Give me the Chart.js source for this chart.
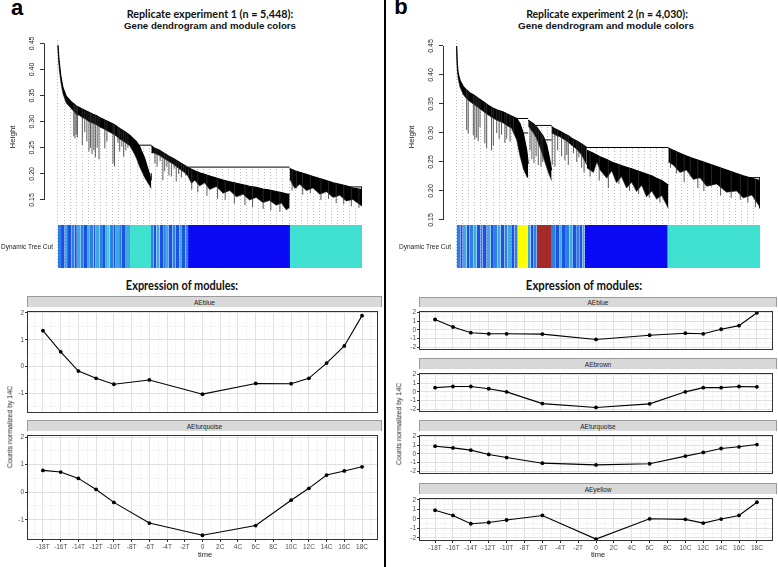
<!DOCTYPE html>
<html>
<head>
<meta charset="utf-8">
<title>WGCNA replicate experiments</title>
<script src="https://cdn.jsdelivr.net/npm/chart.js@4.4.1/dist/chart.umd.min.js"></script>
<style>
  html, body { margin: 0; padding: 0; background: #fff; }
  body { position: relative; width: 778px; height: 567px; overflow: hidden; font-family: 'Liberation Sans', Arial, sans-serif; }
  canvas { position: absolute; }
  .strip { position: absolute; background: #d9d9d9; border: 1px solid #9a9a9a; border-bottom: none; box-sizing: border-box;
           font-size: 6.5px; color: #1a1a1a; text-align: center; }
  .divider { position: absolute; left: 384px; top: 0; width: 2px; height: 567px; background: #000; }
</style>
</head>
<body>
<div class="divider"></div>
<script>
// ---------- expression of modules (lower panels) ----------
const TIMES = [-18, -16, -14, -12, -10, -6, 0, 6, 10, 12, 14, 16, 18];
const TIME_TICKS = [-18, -16, -14, -12, -10, -8, -6, -4, -2, 0, 2, 4, 6, 8, 10, 12, 14, 16, 18];
const TIME_LABELS = ['-18T', '-16T', '-14T', '-12T', '-10T', '-8T', '-6T', '-4T', '-2T', '0',
                     '2C', '4C', '6C', '8C', '10C', '12C', '14C', '16C', '18C'];

const A_BLUE      = [1.34, 0.55, -0.17, -0.44, -0.66, -0.50, -1.03, -0.63, -0.64, -0.44, 0.13, 0.77, 1.90];
const A_TURQUOISE = [0.79, 0.73, 0.50, 0.10, -0.37, -1.12, -1.56, -1.21, -0.29, 0.14, 0.62, 0.77, 0.92];

const B_BLUE      = [1.20, 0.33, -0.33, -0.46, -0.46, -0.49, -1.11, -0.62, -0.39, -0.46, 0.07, 0.49, 1.98];
const B_BROWN     = [0.49, 0.62, 0.62, 0.36, 0.00, -1.36, -1.81, -1.39, 0.00, 0.49, 0.49, 0.62, 0.58];
const B_TURQUOISE = [0.89, 0.69, 0.43, -0.07, -0.43, -1.08, -1.28, -1.15, -0.26, 0.16, 0.62, 0.82, 1.08];
const B_YELLOW    = [0.90, 0.35, -0.52, -0.39, -0.13, 0.35, -2.13, 0.00, -0.06, -0.45, -0.03, 0.35, 1.74];

// ---------- dendrograms (leaf position in % of leaves, merge height) ----------
const HEIGHT_TICKS = [0.15, 0.20, 0.25, 0.30, 0.35, 0.40, 0.45];

// experiment 1: dense branch bands
const A1_X   = [0, 0.3, 0.9, 1.6, 2.7, 4.4, 5.5, 6.0, 7.1, 8.0, 8.8, 10.2, 11.5, 12.6, 13.7, 15.4, 17.0, 18.6, 20.3, 21.9, 23.6, 24.7, 25.8, 26.9, 28.5, 30.7];
const A1_TOP = [0.447, 0.421, 0.389, 0.366, 0.349, 0.338, 0.333, 0.330, 0.327, 0.324, 0.322, 0.318, 0.314, 0.312, 0.308, 0.303, 0.299, 0.294, 0.287, 0.281, 0.274, 0.268, 0.262, 0.252, 0.230, 0.188];
const A1_BOT = [0.444, 0.408, 0.377, 0.354, 0.336, 0.325, 0.318, 0.314, 0.312, 0.308, 0.306, 0.300, 0.297, 0.294, 0.290, 0.285, 0.280, 0.275, 0.267, 0.261, 0.254, 0.243, 0.230, 0.213, 0.193, 0.172];

const A2_X   = [30.7, 31.5, 32.3, 33.4, 34.5, 35.6, 36.7, 37.8, 38.9, 40.6, 41.7, 42.8];
const A2_TOP = [0.254, 0.250, 0.248, 0.245, 0.241, 0.237, 0.233, 0.230, 0.226, 0.220, 0.216, 0.212];
const A2_BOT = [0.240, 0.240, 0.238, 0.235, 0.231, 0.227, 0.223, 0.219, 0.214, 0.207, 0.202, 0.195];

const A3_X   = [42.8, 43.9, 45.0, 46.6, 48.2, 49.9, 52.1, 54.3, 56.5, 58.7, 60.9, 63.0, 65.2, 67.4, 69.6, 71.8, 73.5, 75.1, 76.2];
const A3_TOP = [0.212, 0.209, 0.206, 0.202, 0.199, 0.196, 0.192, 0.188, 0.185, 0.182, 0.179, 0.176, 0.174, 0.171, 0.169, 0.166, 0.164, 0.162, 0.161];
const A3_BOT = [0.195, 0.182, 0.188, 0.177, 0.183, 0.170, 0.176, 0.163, 0.168, 0.156, 0.161, 0.150, 0.155, 0.145, 0.149, 0.140, 0.144, 0.131, 0.136];

const A4_X   = [76.2, 77.9, 79.5, 81.7, 83.9, 86.1, 88.3, 90.5, 92.7, 94.8, 97.0, 100];
const A4_TOP = [0.210, 0.206, 0.203, 0.199, 0.195, 0.191, 0.187, 0.183, 0.180, 0.177, 0.173, 0.170];
const A4_BOT = [0.190, 0.172, 0.180, 0.168, 0.173, 0.161, 0.166, 0.155, 0.159, 0.148, 0.151, 0.138];

// [from, to, height, drop-to]
const A_MERGES = [[24.5, 30.7, 0.255, null], [42.8, 76.2, 0.213, null], [95.0, 100, 0.175, 0.140]];

// experiment 1: single hanging branches (position, lowest leaf height)
const A_DROP_X   = [5.2, 5.6, 6.0, 6.4, 8.0, 8.8, 9.5, 10.2, 10.7, 11.2, 11.8, 12.3, 12.9, 13.5, 15.4, 16.1, 18.1, 18.6, 19.7, 20.3, 21.0, 21.6, 22.3, 23.0,
                    30.7, 31.9, 32.6, 33.6, 34.5, 35.1, 35.8, 36.5, 37.3, 38.2, 38.9, 39.7, 40.6, 41.3, 42.0,
                    44.0, 46.0, 49.0, 52.5, 55.0, 58.0, 61.5, 64.0, 67.5, 70.0, 73.0,
                    77.0, 78.5, 80.5, 83.0, 86.5, 89.0, 91.5, 94.0, 96.5, 99.0];
const A_DROP_LOW = [0.272, 0.268, 0.275, 0.270, 0.255, 0.280, 0.262, 0.243, 0.250, 0.238, 0.245, 0.232, 0.250, 0.228, 0.249, 0.262, 0.220, 0.214, 0.260, 0.243, 0.252, 0.233, 0.245, 0.250,
                    0.201, 0.220, 0.214, 0.225, 0.188, 0.205, 0.214, 0.197, 0.195, 0.210, 0.185, 0.200, 0.193, 0.205, 0.198,
                    0.170, 0.165, 0.158, 0.152, 0.150, 0.143, 0.140, 0.136, 0.133, 0.130, 0.127,
                    0.168, 0.172, 0.160, 0.163, 0.150, 0.152, 0.144, 0.142, 0.138, 0.135];

// experiment 2: dense branch bands
const B1_X   = [0, 0.2, 0.5, 1.1, 2.2, 3.3, 4.4, 5.5, 7.1, 8.8, 10.4, 11.9, 13.2, 15.4, 16.5, 18.1, 19.8, 20.9, 22.0, 23.1, 23.6];
const B1_TOP = [0.450, 0.420, 0.403, 0.391, 0.380, 0.374, 0.369, 0.366, 0.360, 0.354, 0.348, 0.343, 0.340, 0.336, 0.333, 0.329, 0.325, 0.316, 0.299, 0.270, 0.247];
const B1_BOT = [0.445, 0.410, 0.393, 0.379, 0.366, 0.359, 0.354, 0.350, 0.344, 0.337, 0.331, 0.326, 0.322, 0.317, 0.313, 0.308, 0.288, 0.260, 0.238, 0.225, 0.222];

const B2_X   = [23.6, 25.3, 26.4, 27.5, 28.6, 29.7, 30.5, 31.3];
const B2_TOP = [0.322, 0.316, 0.310, 0.302, 0.294, 0.279, 0.259, 0.236];
const B2_BOT = [0.312, 0.300, 0.290, 0.275, 0.258, 0.240, 0.228, 0.218];

const B3_X   = [31.3, 32.4, 34.1, 35.7, 36.8, 37.9, 39.6, 41.2, 42.9];
const B3_TOP = [0.311, 0.307, 0.303, 0.298, 0.295, 0.291, 0.286, 0.281, 0.275];
const B3_BOT = [0.300, 0.297, 0.293, 0.288, 0.284, 0.279, 0.272, 0.262, 0.245];

const B4_X   = [42.9, 45.1, 46.2, 47.3, 49.5, 51.1, 52.7, 54.3, 56.0, 57.7, 59.3, 61.0, 62.6, 64.3, 65.9, 67.6, 69.8];
const B4_TOP = [0.270, 0.265, 0.262, 0.259, 0.254, 0.250, 0.247, 0.244, 0.241, 0.238, 0.235, 0.232, 0.229, 0.226, 0.222, 0.218, 0.210];
const B4_BOT = [0.240, 0.232, 0.250, 0.236, 0.222, 0.235, 0.214, 0.225, 0.205, 0.215, 0.199, 0.210, 0.190, 0.200, 0.186, 0.192, 0.170];

const B5_X   = [69.8, 71.4, 73.6, 75.8, 78.0, 80.2, 82.4, 85.7, 89.0, 92.3, 94.5, 97.3, 100];
const B5_TOP = [0.274, 0.270, 0.265, 0.260, 0.256, 0.252, 0.248, 0.242, 0.236, 0.230, 0.226, 0.222, 0.218];
const B5_BOT = [0.250, 0.245, 0.232, 0.236, 0.220, 0.223, 0.208, 0.212, 0.198, 0.200, 0.188, 0.193, 0.172];

const B_MERGES = [[19.8, 23.6, 0.325, null], [22.0, 23.6, 0.300, null], [26.0, 31.3, 0.313, null],
                  [28.6, 31.3, 0.288, null], [42.9, 69.8, 0.275, null], [94.5, 100, 0.223, 0.170]];

const B_DROP_X   = [3.3, 3.8, 5.5, 6.0, 6.6, 7.1, 7.7, 9.3, 9.9, 11.5, 12.1, 13.2, 14.0, 14.8, 15.9, 16.5, 17.6, 18.7,
                    24.2, 24.8, 25.5, 26.2, 26.9, 27.8, 28.4,
                    31.5, 32.4, 33.3, 34.6, 35.7, 36.3, 36.8, 38.5, 39.6, 40.3, 41.2, 42.0,
                    44.0, 47.0, 50.0, 53.5, 57.0, 60.0, 63.5, 67.0,
                    70.5, 72.5, 75.0, 77.0, 79.5, 81.5, 84.0, 87.0, 90.5, 93.5, 96.0, 98.5];
const B_DROP_LOW = [0.305, 0.299, 0.296, 0.289, 0.292, 0.286, 0.310, 0.282, 0.274, 0.270, 0.278, 0.300, 0.290, 0.297, 0.283, 0.290, 0.285, 0.300,
                    0.270, 0.255, 0.248, 0.260, 0.245, 0.242, 0.250,
                    0.245, 0.242, 0.270, 0.260, 0.253, 0.262, 0.245, 0.265, 0.250, 0.258, 0.240, 0.232,
                    0.225, 0.218, 0.205, 0.212, 0.200, 0.195, 0.188, 0.180,
                    0.240, 0.230, 0.215, 0.225, 0.205, 0.200, 0.208, 0.192, 0.188, 0.185, 0.180, 0.172];

// dynamic tree cut: segment start (% of leaves) and module colour
const A_CUT_START  = [0, 1.0, 2.2, 3.0, 4.5, 5.5, 6.2, 7.5, 8.3, 9.8, 10.5, 11.7, 12.4, 13.6, 14.8, 15.5, 16.4, 17.0, 18.2, 19.0,
                      20.1, 21.0, 22.3, 23.7, 30.6, 31.5, 32.4, 33.4, 34.6, 35.5, 36.3, 37.6, 38.6, 40.0, 40.8, 41.9, 42.8, 76.3];
const A_CUT_MODULE = ['mid', 'dark', 'light', 'dark', 'mid', 'dark', 'light', 'mid', 'dark', 'light',
                      'mid', 'dark', 'light', 'mid', 'dark', 'light', 'teal', 'mid', 'dark', 'light',
                      'mid', 'dark', 'light', 'turquoise', 'mid', 'dark', 'light', 'dark', 'mid', 'light',
                      'dark', 'mid', 'dark', 'light', 'dark', 'mid', 'blue', 'turquoise'];

const B_CUT_START  = [0, 1.2, 2.0, 3.3, 4.3, 5.6, 6.6, 7.9, 8.6, 9.9, 11.2, 12.0, 13.5, 14.5, 15.8, 16.8, 18.0, 19.1, 20.1, 23.4,
                      24.4, 25.4, 26.4, 31.4, 32.5, 33.8, 34.7, 36.0, 37.2, 38.3, 39.6, 40.6, 41.5, 42.2, 69.6];
const B_CUT_MODULE = ['mid', 'dark', 'light', 'dark', 'mid', 'light', 'dark', 'mid', 'dark', 'light',
                      'dark', 'mid', 'light', 'dark', 'mid', 'light', 'dark', 'mid', 'yellow', 'light',
                      'dark', 'mid', 'brown', 'mid', 'dark', 'light', 'dark', 'mid', 'light', 'dark',
                      'mid', 'dark', 'light', 'blue', 'turquoise'];

const MODULE_COLORS = {
  blue: '#0a0af4', turquoise: '#40e0d0', yellow: '#ffff00', brown: '#a52a2a',
  dark: '#1c52e4', mid: '#2b7fe6', light: '#40a8de', teal: '#3cc6d4'
};

Chart.defaults.font.family = "'Liberation Sans', Arial, sans-serif";

// ---------- helpers ----------
function makeCanvas(left, top, w, h) {
  const c = document.createElement('canvas');
  c.width = w; c.height = h;
  c.style.left = left + 'px'; c.style.top = top + 'px';
  c.style.width = w + 'px'; c.style.height = h + 'px';
  document.body.appendChild(c);
  return c;
}

// Places a text label centred (or right-aligned) on x,y; optionally rotated / fitted to a width
function label(text, x, y, css, opts = {}) {
  const d = document.createElement('div');
  d.textContent = text;
  Object.assign(d.style, { position: 'absolute', left: x + 'px', top: y + 'px', whiteSpace: 'nowrap', lineHeight: '1' }, css);
  document.body.appendChild(d);
  const sx = opts.width ? opts.width / d.offsetWidth : 1;
  const anchor = opts.anchor === 'right' ? 'translate(-100%,-50%)' : 'translate(-50%,-50%)';
  d.style.transform = anchor + (opts.rotate ? ' rotate(-90deg)' : '') + ` scaleX(${sx})`;
}

function strip(text, left, top, w, h) {
  const d = document.createElement('div');
  d.className = 'strip';
  Object.assign(d.style, { left: left + 'px', top: top + 'px', width: w + 'px', height: h + 'px', lineHeight: h + 'px' });
  d.textContent = text;
  document.body.appendChild(d);
}

const panelBorder = {
  id: 'panelBorder',
  afterDraw(chart) {
    const a = chart.chartArea, ctx = chart.ctx;
    ctx.save();
    ctx.strokeStyle = '#333';
    ctx.lineWidth = 1;
    ctx.strokeRect(a.left + 0.5, a.top + 0.5, a.right - a.left - 1, a.bottom - a.top - 1);
    ctx.restore();
  }
};

// R-style axis line spanning only the labelled ticks
const rAxisLine = {
  id: 'rAxisLine',
  afterDraw(chart) {
    const y = chart.scales.y, ctx = chart.ctx, x = chart.chartArea.left + 0.5;
    ctx.save();
    ctx.strokeStyle = '#333';
    ctx.lineWidth = 1;
    ctx.beginPath();
    ctx.moveTo(x, y.getPixelForValue(HEIGHT_TICKS[0]));
    ctx.lineTo(x, y.getPixelForValue(HEIGHT_TICKS[HEIGHT_TICKS.length - 1]));
    ctx.stroke();
    ctx.restore();
  }
};

// height of the band top at leaf position x (for the upper end of a hanging branch)
function topAt(clusters, x) {
  for (const c of clusters) {
    const n = c.x.length;
    if (x < c.x[0] || x > c.x[n - 1]) continue;
    for (let i = 1; i < n; i++) {
      if (x <= c.x[i]) {
        const t = (x - c.x[i - 1]) / ((c.x[i] - c.x[i - 1]) || 1);
        return c.top[i - 1] + t * (c.top[i] - c.top[i - 1]);
      }
    }
    return c.top[0];
  }
  return null;
}

// ---------- dendrogram + colour bar ----------
function dendroChart(g, clusters, merges, dropX, dropLow, cutStart, cutModule) {
  const padTop = 10;
  const canvas = makeCanvas(g.left, g.top - padTop, g.width, g.height + padTop);
  const span = g.yMax - g.yMin;
  const barTop = g.yMax - (g.barTop - g.top) / g.height * span;
  const guides = [];
  for (let v = 0; v <= 100; v += 2) guides.push(v);

  const datasets = [];
  cutStart.forEach((s, i) => {
    const e = i + 1 < cutStart.length ? cutStart[i + 1] : 100;
    datasets.push({ data: [{ x: s, y: barTop }, { x: e, y: barTop }], fill: 'start',
      backgroundColor: MODULE_COLORS[cutModule[i]], borderWidth: 0, pointRadius: 0, order: 1 });
  });
  merges.forEach(m => {
    const pts = [{ x: m[0], y: m[2] }, { x: m[1], y: m[2] }];
    if (m[3] !== null) pts.push({ x: m[1], y: m[3] });
    datasets.push({ data: pts, borderColor: '#000', borderWidth: 1, pointRadius: 0, fill: false, order: 2 });
  });
  // hanging single branches
  const dropPts = [];
  dropX.forEach((x, i) => {
    dropPts.push({ x, y: dropLow[i] }, { x, y: topAt(clusters, x) }, { x, y: null });
  });
  datasets.push({ data: dropPts, borderColor: '#333', borderWidth: 0.8, pointRadius: 0, fill: false,
    spanGaps: false, order: 4 });
  // white mask above the tree so the guide lines stop at the leaves
  const mask = [];
  clusters.forEach(c => c.x.forEach((x, i) => {
    let h = c.top[i];
    merges.forEach(m => { if (x >= m[0] && x <= m[1] && m[2] > h) h = m[2]; });
    mask.push({ x, y: h });
  }));
  datasets.push({ data: mask, fill: 'end', backgroundColor: '#fff', borderWidth: 0, pointRadius: 0, order: 10 });
  clusters.forEach(c => {
    datasets.push({ data: c.x.map((x, i) => ({ x, y: c.top[i] })), borderColor: '#000', borderWidth: 1.2,
      pointRadius: 0, fill: false, order: 5 });
    datasets.push({ data: c.x.map((x, i) => ({ x, y: c.bot[i] })), borderColor: '#222', borderWidth: 0.6,
      pointRadius: 0, fill: '-1', backgroundColor: '#000', order: 5 });
  });

  return new Chart(canvas, {
    type: 'line',
    data: { datasets },
    options: {
      responsive: false, animation: false, events: [],
      layout: { padding: { top: padTop, left: 0, right: 0, bottom: 0 } },
      plugins: { legend: { display: false }, tooltip: { enabled: false } },
      scales: {
        x: {
          type: 'linear', min: g.xMin, max: 100,
          afterBuildTicks: s => { s.ticks = guides.map(v => ({ value: v })); },
          ticks: { display: false },
          grid: { color: '#9c9c9c', lineWidth: 0.7, drawTicks: false, borderDash: [1, 2] },
          border: { display: false, dash: [1, 2] },
          afterFit: s => { s.height = 0; s.paddingLeft = 0; s.paddingRight = 0; }
        },
        y: {
          type: 'linear', min: g.yMin, max: g.yMax,
          afterBuildTicks: s => { s.ticks = HEIGHT_TICKS.map(v => ({ value: v })); },
          ticks: { minRotation: 90, maxRotation: 90, crossAlign: 'center', padding: 1, color: '#222',
                   autoSkip: false, font: { size: 7 }, callback: v => v.toFixed(2) },
          grid: { drawOnChartArea: false, drawTicks: true, tickLength: 4, tickColor: '#333', tickWidth: 1 },
          border: { display: false },
          afterFit: s => { s.width = g.yW; s.paddingTop = 0; s.paddingBottom = 0; }
        }
      }
    },
    plugins: [rAxisLine]
  });
}

// ---------- one ggplot facet ----------
function facet(f, series, yMin, yMax, showX) {
  const canvas = makeCanvas(f.left - f.yW, f.top, f.right - f.left + f.yW, f.bottom - f.top + (showX ? f.xH : 0));
  const xGrid = [];
  for (let v = -19; v <= 19; v++) xGrid.push(v);
  const yGrid = [];
  for (let v = Math.ceil(yMin * 2) / 2; v <= yMax; v += 0.5) yGrid.push(v);
  const isMajorX = v => v % 2 === 0;
  const isMajorY = v => Number.isInteger(v);

  return new Chart(canvas, {
    type: 'line',
    data: { datasets: [{ data: TIMES.map((t, i) => ({ x: t, y: series[i] })), borderColor: '#000', borderWidth: 1.1,
      pointRadius: 1.9, pointBackgroundColor: '#000', pointBorderWidth: 0, tension: 0, fill: false }] },
    options: {
      responsive: false, animation: false, events: [],
      layout: { padding: 0 },
      plugins: { legend: { display: false }, tooltip: { enabled: false } },
      scales: {
        x: {
          type: 'linear', min: -19.8, max: 19.8,
          afterBuildTicks: s => { s.ticks = xGrid.map(v => ({ value: v })); },
          ticks: { display: showX, autoSkip: false, minRotation: 0, maxRotation: 0, padding: 1, color: '#4d4d4d',
                   font: { size: 6.5 },
                   callback: v => { const k = TIME_TICKS.indexOf(v); return k < 0 ? '' : TIME_LABELS[k]; } },
          grid: { color: c => (c.tick && isMajorX(c.tick.value)) ? '#e1e1e1' : '#eeeeee',
                  lineWidth: c => (c.tick && isMajorX(c.tick.value)) ? 1 : 0.6,
                  drawTicks: showX, tickLength: 2,
                  tickColor: c => (c.tick && isMajorX(c.tick.value)) ? '#333' : 'rgba(0,0,0,0)' },
          border: { display: false },
          afterFit: s => { s.height = showX ? f.xH : 0; s.paddingLeft = 0; s.paddingRight = 0; }
        },
        y: {
          type: 'linear', min: yMin, max: yMax,
          afterBuildTicks: s => { s.ticks = yGrid.map(v => ({ value: v })); },
          ticks: { padding: 1, color: '#4d4d4d', font: { size: 6.5 }, autoSkip: false,
                   callback: v => isMajorY(v) ? String(v) : '' },
          grid: { color: c => (c.tick && isMajorY(c.tick.value)) ? '#e1e1e1' : '#eeeeee',
                  lineWidth: c => (c.tick && isMajorY(c.tick.value)) ? 1 : 0.6,
                  drawTicks: true, tickLength: 2,
                  tickColor: c => (c.tick && isMajorY(c.tick.value)) ? '#333' : 'rgba(0,0,0,0)' },
          border: { display: false },
          afterFit: s => { s.width = f.yW; s.paddingTop = 0; s.paddingBottom = 0; }
        }
      }
    },
    plugins: [panelBorder]
  });
}

// ggplot-style 5% expansion of the shared y range
function expandRange(seriesList) {
  const all = seriesList.flat();
  const lo = Math.min(...all), hi = Math.max(...all), pad = (hi - lo) * 0.05;
  return [lo - pad, hi + pad];
}

function init() {
  // ----- titles -----
  const titleFont = { fontFamily: "Lato, 'Open Sans', sans-serif", fontWeight: '700', fontSize: '12px', color: '#111' };
  const subFont = { fontFamily: "'Liberation Sans', Arial, sans-serif", fontWeight: '700', fontSize: '9.5px', color: '#111' };
  label('a', 17, 8, { fontFamily: "'Liberation Sans', Arial, sans-serif", fontWeight: '700', fontSize: '22px' });
  label('b', 401, 7, { fontFamily: "'Liberation Sans', Arial, sans-serif", fontWeight: '700', fontSize: '22px' });
  label('Replicate experiment 1 (n = 5,448):', 210, 14, titleFont, { width: 167 });
  label('Gene dendrogram and module colors', 210, 26, subFont, { width: 172 });
  label('Replicate experiment 2 (n = 4,030):', 607, 14, titleFont, { width: 162 });
  label('Gene dendrogram and module colors', 606, 26, subFont, { width: 176 });

  // ----- dendrograms -----
  const small = { fontSize: '8px', color: '#222' };
  dendroChart({ left: 0, top: 40, width: 362, height: 228, yW: 44, xMin: -4.6, yMin: 0.0197, yMax: 0.4565, barTop: 225 },
    [{ x: A1_X, top: A1_TOP, bot: A1_BOT }, { x: A2_X, top: A2_TOP, bot: A2_BOT },
     { x: A3_X, top: A3_TOP, bot: A3_BOT }, { x: A4_X, top: A4_TOP, bot: A4_BOT }],
    A_MERGES, A_DROP_X, A_DROP_LOW, A_CUT_START, A_CUT_MODULE);
  dendroChart({ left: 390, top: 40, width: 370, height: 228, yW: 53, xMin: -4.5, yMin: 0.0672, yMax: 0.4603, barTop: 225 },
    [{ x: B1_X, top: B1_TOP, bot: B1_BOT }, { x: B2_X, top: B2_TOP, bot: B2_BOT }, { x: B3_X, top: B3_TOP, bot: B3_BOT },
     { x: B4_X, top: B4_TOP, bot: B4_BOT }, { x: B5_X, top: B5_TOP, bot: B5_BOT }],
    B_MERGES, B_DROP_X, B_DROP_LOW, B_CUT_START, B_CUT_MODULE);
  label('Height', 13, 137, small, { rotate: true });
  label('Height', 412, 137, small, { rotate: true });
  label('Dynamic Tree Cut', 53, 247, { fontSize: '6.5px', color: '#222' }, { anchor: 'right' });
  label('Dynamic Tree Cut', 451, 247, { fontSize: '6.5px', color: '#222' }, { anchor: 'right' });

  // ----- expression of modules -----
  const headFont = { fontFamily: "Lato, 'Open Sans', sans-serif", fontWeight: '700', fontSize: '14px', color: '#111' };
  label('Expression of modules:', 182, 285, headFont, { width: 112 });
  label('Expression of modules:', 584, 285, headFont, { width: 116 });

  const [aMin, aMax] = expandRange([A_BLUE, A_TURQUOISE]);
  const aFacets = [
    { name: 'AEblue', series: A_BLUE, strip: 296, top: 307, bottom: 417 },
    { name: 'AEturquoise', series: A_TURQUOISE, strip: 420, top: 431, bottom: 540 }
  ];
  aFacets.forEach((p, i) => {
    const f = { left: 27, right: 382, top: p.top, bottom: p.bottom, yW: 26, xH: 12 };
    strip(p.name, f.left, p.strip, f.right - f.left, p.top - p.strip);
    facet(f, p.series, aMin, aMax, i === aFacets.length - 1);
  });

  const [bMin, bMax] = expandRange([B_BLUE, B_BROWN, B_TURQUOISE, B_YELLOW]);
  const bFacets = [
    { name: 'AEblue', series: B_BLUE, strip: 297, top: 307, bottom: 354 },
    { name: 'AEbrown', series: B_BROWN, strip: 358, top: 369, bottom: 416 },
    { name: 'AEturquoise', series: B_TURQUOISE, strip: 420, top: 431, bottom: 478 },
    { name: 'AEyellow', series: B_YELLOW, strip: 483, top: 494, bottom: 541 }
  ];
  bFacets.forEach((p, i) => {
    const f = { left: 419, right: 777, top: p.top, bottom: p.bottom, yW: 26, xH: 12 };
    strip(p.name, f.left, p.strip, f.right - f.left, p.top - p.strip);
    facet(f, p.series, bMin, bMax, i === bFacets.length - 1);
  });

  const axisFont = { fontSize: '7.5px', color: '#222' };
  label('time', 205, 555, axisFont);
  label('time', 598, 555, axisFont);
  label('Counts normalized by 14C', 10, 427, axisFont, { rotate: true, width: 82 });
  label('Counts normalized by 14C', 399, 424, axisFont, { rotate: true, width: 82 });
}

document.addEventListener('DOMContentLoaded', init);
</script>
</body>
</html>
